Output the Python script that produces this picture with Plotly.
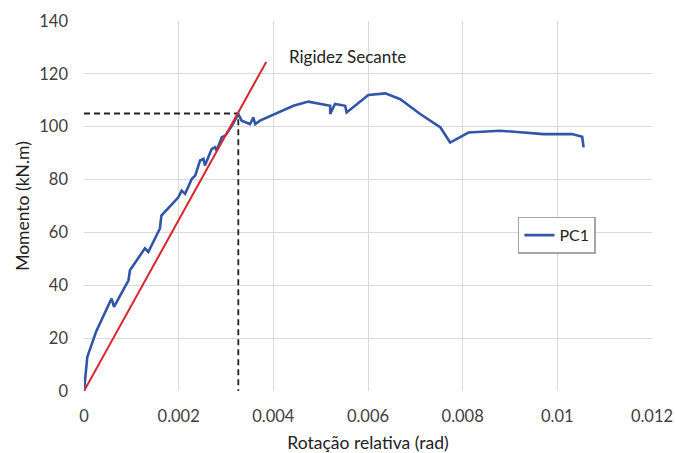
import plotly.graph_objects as go

# PC1 moment-rotation curve
rot = [0, 0.00007, 0.000255, 0.000582, 0.000634, 0.00094, 0.000971, 0.001287, 0.001359,
       0.001604, 0.001635, 0.001993, 0.002064, 0.002136, 0.002279, 0.00235, 0.002452, 0.002524,
       0.002555, 0.002698, 0.002769, 0.0028, 0.002912, 0.002984, 0.003127, 0.00326, 0.003331,
       0.003433, 0.003505, 0.003546, 0.003576, 0.003617, 0.003719, 0.004424, 0.004741, 0.005201,
       0.005201, 0.005303, 0.005518, 0.005548, 0.006008, 0.006366, 0.006683, 0.007102, 0.007531,
       0.007735, 0.008123, 0.008787, 0.009707, 0.01031, 0.010525, 0.010555]
mom = [0, 12.9, 22.4, 35, 31.8, 41.9, 45.7, 54, 52.6,
       61.5, 66.4, 73.3, 75.8, 74.6, 80.3, 81.5, 87.2, 87.8,
       85.3, 91.6, 92.2, 90.9, 96, 96.6, 100.4, 104.8, 102.3,
       101.6, 101, 102.3, 103.5, 101, 102.3, 107.9, 109.5, 107.9,
       104.8, 108.6, 107.9, 105.4, 112, 112.6, 110.4, 104.8, 99.7,
       94, 97.8, 98.5, 97.2, 97.2, 96.2, 92.2]

# Secant stiffness line
sec_x = [0, 0.00385]
sec_y = [0, 124.5]

# Reference point (dashed guides)
ref_x = 0.00326
ref_y = 105

x_ticks = [0, 0.002, 0.004, 0.006, 0.008, 0.01, 0.012]
x_tick_text = ["0", "0.002", "0.004", "0.006", "0.008", "0.01", "0.012"]
y_ticks = [0, 20, 40, 60, 80, 100, 120, 140]

FONT = "Lato"

fig = go.Figure()
fig.add_trace(go.Scatter(x=[0, ref_x, ref_x], y=[ref_y, ref_y, 0], mode="lines",
                         line=dict(color="#222222", width=1.8, dash="6px,4px"),
                         showlegend=False, hoverinfo="skip"))
fig.add_trace(go.Scatter(x=rot, y=mom, mode="lines", name="PC1",
                         line=dict(color="#3156A8", width=2.6)))
fig.add_trace(go.Scatter(x=sec_x, y=sec_y, mode="lines",
                         line=dict(color="#D7282D", width=2),
                         showlegend=False))

fig.add_annotation(x=0.00556, y=126.4, text="Rigidez Secante", showarrow=False,
                   font=dict(family=FONT, size=17, color="#222222"))

fig.update_layout(
    width=675, height=453,
    margin=dict(l=84, r=23, t=21, b=62),
    paper_bgcolor="white", plot_bgcolor="white",
    font=dict(family=FONT, size=16.5, color="#404040"),
    legend=dict(x=0.764, y=0.471, xanchor="left", yanchor="top",
                bordercolor="#A6A6A6", borderwidth=1.5, bgcolor="white",
                font=dict(family=FONT, size=16, color="#222222"),
                itemwidth=30, tracegroupgap=0),
    xaxis=dict(range=[0, 0.012], tickvals=x_ticks, ticktext=x_tick_text,
               showgrid=True, gridcolor="#D9D9D9", gridwidth=1, zeroline=False,
               showline=False, ticks="", automargin=False,
               title=dict(text="Rotação relativa (rad)", standoff=13,
                          font=dict(family=FONT, size=17.5, color="#222222"))),
    yaxis=dict(range=[0, 140], tickvals=y_ticks,
               showgrid=True, gridcolor="#D9D9D9", gridwidth=1, zeroline=False,
               showline=False, ticks="", automargin=False,
               title=dict(text="Momento (kN.m)", standoff=5,
                          font=dict(family=FONT, size=17.5, color="#222222"))),
)
fig.update_xaxes(ticklabelstandoff=13)
fig.update_yaxes(ticklabelstandoff=15)

fig.write_html("out.html")
